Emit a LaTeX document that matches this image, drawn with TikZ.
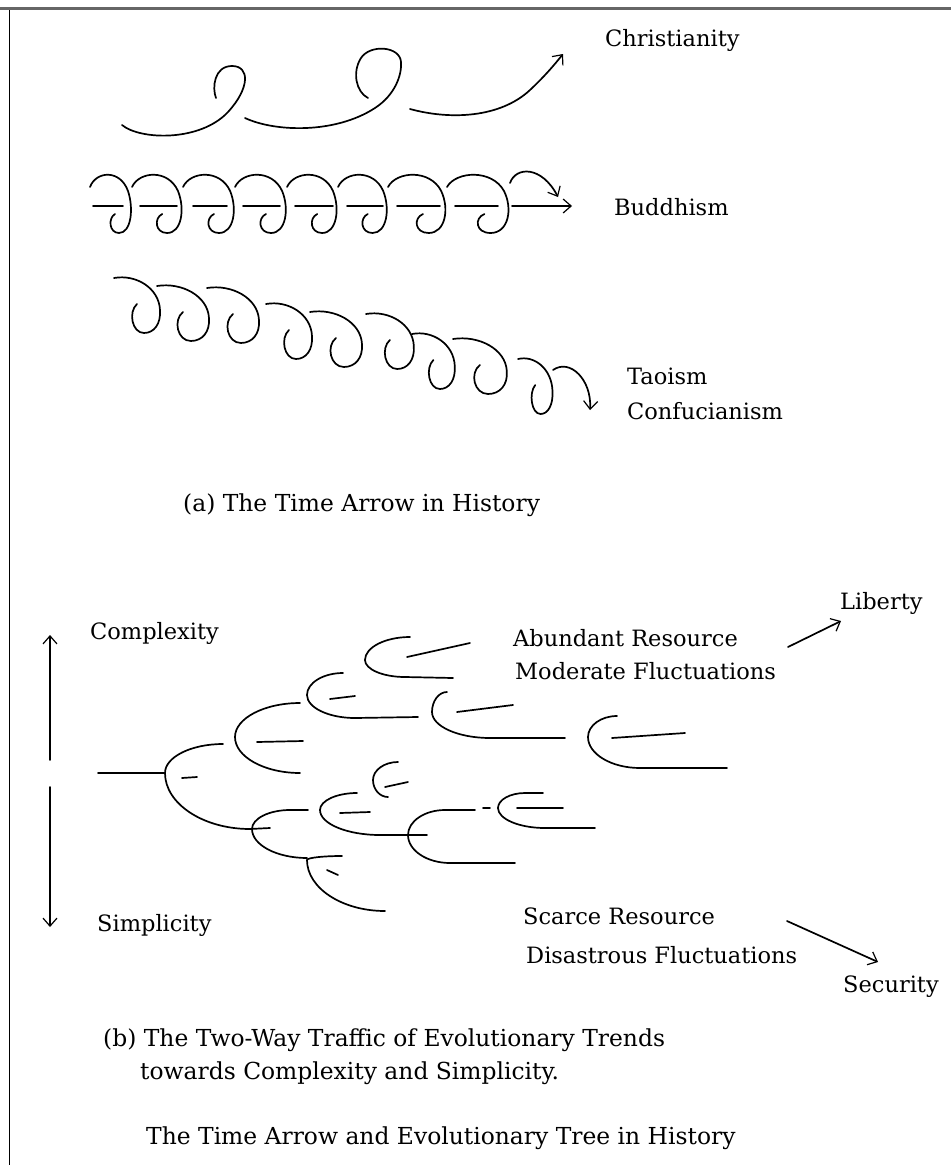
\documentclass[tikz,border=0pt]{standalone}
\usepackage{fontspec}
\setmainfont{DejaVu Serif}
\usetikzlibrary{arrows.meta,calc}

% one arm of a fork: from the joint round to the bend, then straight on
\newcommand\arm[3]{%
  \draw[inkline] let \p1=(#1), \p2=(#2) in
    (\p1) .. controls (\x1,{\y1+0.55*(\y2-\y1)}) and ({\x2-0.55*(\x2-\x1)},\y2) .. (\p2) -- (#3);}
% joint, upper bend, upper end, lower bend, lower end
\newcommand\fork[5]{\arm{#1}{#2}{#3}\arm{#1}{#4}{#5}}

\begin{document}
\begin{tikzpicture}[x=1pt, y=-1pt,
  inkline/.style={line width=1.7pt, line cap=round, line join=round},
  barbtip/.style={-{Straight Barb[length=8pt, width=14pt, line width=1.2pt]}},
  lbl/.style={anchor=west, inner sep=0pt, font=\fontsize{22.5}{27}\selectfont},
  captext/.style={lbl, font=\fontsize{23.4}{28}\selectfont},
  curl/.pic={\draw[inkline] (0,0) .. controls (6,-16) and (30,-18) .. (38,4)
      .. controls (44,22) and (41,46) .. (29,46) .. controls (19,46) and (18,31) .. (25,27);},
  coil/.pic={\draw[inkline] (0,0) .. controls (22,-4) and (45,10) .. (46,32)
      .. controls (47,46) and (40,55) .. (30,55) .. controls (18,55) and (14,34) .. (23,26);}
]
\useasboundingbox (0,0) rectangle (951,1165);

% frame
\draw[line width=3pt, black!60] (0,8.5) -- (951,8.5);
\draw[line width=1.5pt] (9.5,10) -- (9.5,1165);

% --- (a) time arrows ---
\node[lbl] (christ) at (605,40) {Christianity};
\node[lbl] (buddh) at (614,207) {Buddhism};
\node[lbl] (tao) at (627,376) {Taoism};
\node[lbl] (confu) at (627,411) {Confucianism};
\node[captext] (capa) at (183,505) {(a) The Time Arrow in History};

\draw[inkline] (122,125) .. controls (140,140) and (200,142) .. (228,112)
  .. controls (250,88) and (250,66) .. (232,66) .. controls (214,66) and (212,88) .. (216,98);
\draw[inkline] (245,118) .. controls (275,132) and (335,134) .. (375,108)
  .. controls (395,95) and (402,75) .. (401,62) .. controls (400,46) and (370,44) .. (361,58)
  .. controls (352,72) and (356,92) .. (368,98);
\draw[inkline, barbtip] (410,109) .. controls (450,120) and (500,118) .. (530,90)
  .. controls (545,76) and (555,64) .. (563,54);

\foreach \x/\s in {90/1, 132/1.21, 183/1.24, 235/1.24, 287/1.21, 338/1.19, 388/1.40, 447/1.50}
  \pic[xscale=\s] at (\x,187) {curl};
\foreach \a/\b in {93/123, 140/177, 193/227, 243/280, 295/333, 347/383, 397/440, 455/498}
  \draw[inkline] (\a,206) -- (\b,206);
\draw[inkline, barbtip] (512,206) -- (572,206);
\draw[inkline, barbtip] (510,183) .. controls (516,166) and (542,166) .. (558,197);

\foreach \x/\y/\s in {114/278/1, 157/286/1.13, 207/288/1.13, 266/304/1, 310/312/1.13,
    366/314/1.04, 412/334/0.93, 453/339/1.17, 518/359/0.75}
  \pic[xscale=\s] at (\x,\y) {coil};
\draw[inkline, barbtip] (553,370) .. controls (570,358) and (592,380) .. (590,410);

% --- (b) evolutionary tree ---
\node[lbl] (cplx) at (90,633) {Complexity};
\node[lbl] (simp) at (97,925) {Simplicity};
\node[lbl] (abund) at (513,638) {Abundant Resource};
\node[lbl] (moder) at (515,671) {Moderate Fluctuations};
\node[lbl] (liberty) at (840,603) {Liberty};
\node[lbl] (scarce) at (523,916) {Scarce Resource};
\node[lbl] (disas) at (526,955) {Disastrous Fluctuations};
\node[lbl] (secur) at (843,987) {Security};
\node[captext] (capb) at (103,1040) {(b) The Two-Way Traffic of Evolutionary Trends};
\node[captext] (capb2) at (140,1073) {towards Complexity and Simplicity.};
\node[captext] (title) at (146,1138) {The Time Arrow and Evolutionary Tree in History};

\coordinate (uptail) at (50,760);
\coordinate (uphead) at (50,635);
\coordinate (downtail) at (50,787);
\coordinate (downhead) at (50,927);
\draw[inkline, barbtip] (uptail) -- (uphead);
\draw[inkline, barbtip] (downtail) -- (downhead);

\coordinate (libtail) at (788,647);
\coordinate (libhead) at (841,621);
\draw[inkline, barbtip] (libtail) -- (libhead);
\coordinate (sectail) at (787,921);
\coordinate (sechead) at (878,962);
\draw[inkline, barbtip] (sectail) -- (sechead);

\draw[inkline] (98,773) -- (165,773);
\fork{165,773}{223,744}{223,744}{250,829}{270,828}
\fork{235,737}{300,703}{300,703}{300,773}{300,773}
\fork{307,695}{343,673}{343,673}{355,718}{418,717}
\fork{365,660}{410,637}{410,637}{405,677}{453,678}
\fork{432,712}{447,692}{447,692}{490,738}{565,738}
\fork{588,737}{617,716}{617,716}{640,768}{727,768}
\fork{252,829}{290,810}{308,810}{307,858}{307,858}
\fork{307,860}{342,856}{342,856}{385,911}{385,911}
\fork{373,780}{398,762}{398,762}{388,797}{388,797}
\fork{320,810}{357,793}{357,793}{380,835}{427,835}
\fork{408,835}{445,810}{475,810}{450,863}{515,863}
\fork{498,808}{525,793}{543,793}{545,828}{595,828}
\foreach \a/\b/\c/\d in {182/778/197/777, 257/742/303/741, 330/699/355/696,
    407/657/470/643, 457/712/513/705, 612/738/685/733, 327/870/338/875,
    385/787/408/782, 340/813/370/812, 483/808/490/808, 517/808/563/808}
  \draw[inkline] (\a,\b) -- (\c,\d);

\end{tikzpicture}
\end{document}
